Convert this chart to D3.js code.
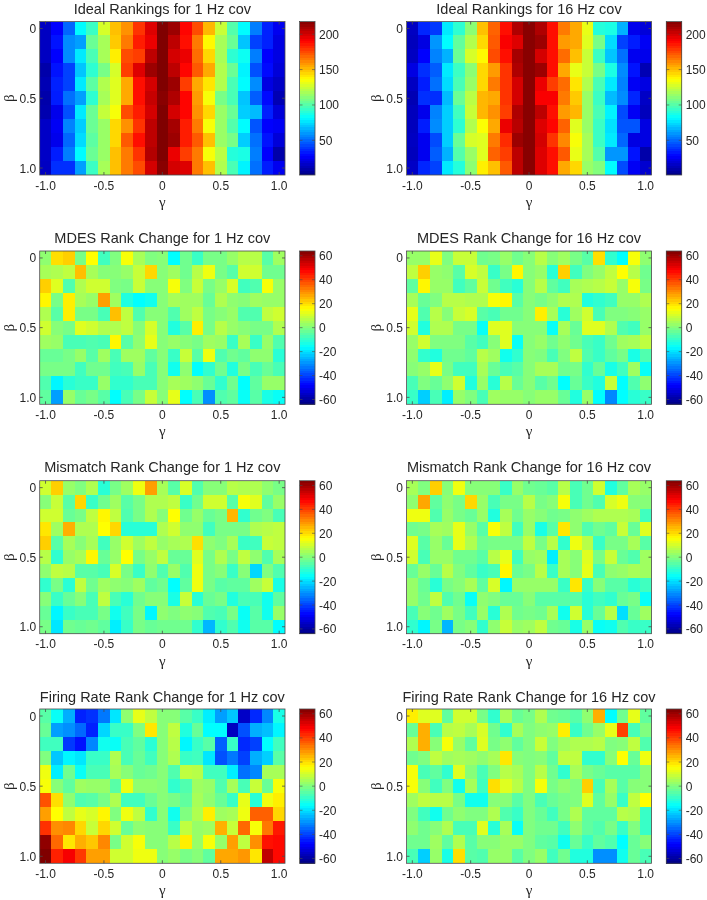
<!DOCTYPE html>
<html><head><meta charset="utf-8">
<script src="https://cdn.jsdelivr.net/npm/d3@7"></script>
<style>html,body{margin:0;padding:0;background:#fff}svg{display:block;filter:blur(0.35px)}text{font-family:"Liberation Sans",Arial,sans-serif;fill:#262626}.heat{filter:blur(0.7px)}.heat rect{shape-rendering:crispEdges}</style>
</head><body><svg id="c" width="707" height="900"></svg>
<script>
const gammaValues=[-1,-.9,-.8,-.7,-.6,-.5,-.4,-.3,-.2,-.1,0,.1,.2,.3,.4,.5,.6,.7,.8,.9,1];
const betaValues=[0,.1,.2,.3,.4,.5,.6,.7,.8,.9,1];
const gammaTicks=[-1,-.5,0,.5,1];
const betaTicks=[0,.5,1];
const idealTicks=[50,100,150,200];
const changeTicks=[-60,-40,-20,0,20,40,60];
const idealDomain=[1,218];
const changeDomain=[-64,64];
const titles=["Ideal Rankings for 1 Hz cov","Ideal Rankings for 16 Hz cov","MDES Rank Change for 1 Hz cov","MDES Rank Change for 16 Hz cov","Mismatch Rank Change for 1 Hz cov","Mismatch Rank Change for 16 Hz cov","Firing Rate Rank Change for 1 Hz cov","Firing Rate Rank Change for 16 Hz cov"];
const ideal1=[
[15,28,50,82,95,128,150,160,180,198,220,212,190,175,152,125,100,82,55,35,25],
[15,32,58,62,105,118,148,165,185,195,218,205,188,165,138,118,105,70,42,35,22],
[15,28,58,78,98,118,140,175,178,205,218,200,195,168,145,118,92,85,55,28,22],
[10,32,42,70,92,108,128,178,198,212,218,205,190,172,155,120,105,80,45,30,20],
[12,35,42,78,102,120,130,155,188,200,218,212,178,155,142,120,98,82,58,22,16],
[10,34,52,62,92,118,130,155,188,203,216,208,190,158,135,108,98,70,48,30,12],
[11,24,45,78,105,124,135,175,185,200,218,200,190,160,145,115,105,72,68,35,20],
[16,26,56,72,105,115,145,160,180,205,218,210,185,165,135,115,100,82,46,28,26],
[16,24,50,75,102,115,145,172,188,205,218,212,185,172,150,115,108,72,52,32,20],
[16,34,55,82,105,115,150,165,180,207,218,195,178,165,135,122,90,88,55,28,10],
[15,38,38,62,95,118,150,165,175,200,216,200,198,165,150,120,98,80,52,34,25]];
const ideal16=[
[15,36,40,78,92,112,150,170,188,208,216,208,188,165,155,132,90,88,66,24,20],
[14,22,60,82,103,120,145,172,192,198,216,212,188,158,155,130,108,75,42,34,26],
[15,28,56,66,105,128,138,175,188,210,216,200,188,168,150,125,95,70,52,25,24],
[22,38,48,78,95,112,145,158,180,208,216,212,188,155,132,125,108,88,58,32,12],
[15,34,52,75,98,115,145,165,180,200,216,195,178,168,142,120,98,78,56,26,22],
[12,38,38,68,105,122,152,155,180,200,216,192,192,165,148,115,95,68,58,36,16],
[14,24,56,72,96,125,152,160,178,208,216,205,188,158,152,115,98,80,44,26,14],
[14,34,58,72,92,120,136,155,195,206,216,198,190,170,130,115,95,76,46,46,22],
[15,25,44,72,105,128,130,165,182,212,216,200,180,162,135,118,95,78,50,22,22],
[14,25,48,66,100,115,130,170,178,205,216,198,188,172,132,118,100,60,60,32,10],
[16,36,42,78,90,112,140,150,172,205,216,198,188,155,145,115,110,82,44,26,18]];
const mdes1=[
[2,20,22,-1,16,-8,0,15,5,0,1,-16,-2,-9,-1,-1,3,7,7,-5,4],
[5,6,8,24,5,1,1,3,9,21,1,4,-2,7,14,-1,-5,10,10,-2,-2],
[22,12,-6,6,10,10,0,-1,9,1,1,15,0,9,-1,3,11,-8,-6,15,3],
[17,-1,18,5,3,28,4,-12,-16,-14,1,5,4,4,-3,6,2,1,4,3,3],
[6,-5,18,-1,-1,-7,24,8,-6,1,1,-6,4,8,-1,1,3,-6,-6,8,10],
[10,1,-1,12,10,6,6,8,1,11,1,-12,-5,18,-1,7,3,1,-1,-1,6],
[4,3,-7,-7,-6,-7,17,-5,2,13,1,3,1,-1,4,3,-9,5,-9,3,-6],
[-3,-3,-1,3,-5,4,-7,4,4,-4,1,-9,9,-5,14,-6,-2,-4,2,2,-11],
[-1,-1,-1,-8,-2,-2,-8,-7,3,-7,1,-14,2,-16,-10,-2,-12,-1,-7,-3,-7],
[-6,-17,-11,-9,-9,3,-10,-10,-7,-7,1,5,4,2,-3,-10,-2,-16,-4,3,3],
[-4,-28,3,-3,-1,-5,-16,-7,-1,9,1,13,-16,-7,-30,-6,-4,-15,-5,-13,-15]];
const mdes16=[
[3,3,13,0,9,9,-2,-1,3,-2,1,7,1,4,-1,-5,20,-10,-16,15,2],
[8,22,3,2,-5,11,8,-9,-1,17,1,3,-11,22,-8,0,3,8,16,7,-2],
[-4,17,3,3,-8,-4,9,-2,-8,-11,1,7,-4,-8,5,6,7,9,3,15,-1],
[5,-3,0,7,7,6,6,15,17,-5,1,-1,2,6,6,-12,-10,-8,3,3,6],
[13,-6,7,1,9,11,-5,-7,-2,-2,1,18,5,-11,4,10,-7,0,0,1,3],
[10,-12,6,6,-1,-1,-15,12,12,1,1,1,-15,5,-3,12,12,6,-6,-8,3],
[3,10,0,0,0,-5,-8,1,12,-15,1,3,-2,2,-2,-7,-9,-2,4,5,8],
[2,-10,-12,-2,-2,-4,7,4,-14,-10,1,0,-7,0,8,-6,-9,-4,-1,-13,-6],
[1,3,13,-1,-8,-8,5,-3,-7,-5,1,5,5,-2,-1,-10,-3,-13,-8,4,-15],
[-7,0,-3,2,10,-12,3,-11,7,-3,1,-5,-2,-16,-3,-9,-12,9,-16,-6,2],
[-9,-22,-7,-18,3,0,-7,4,3,3,1,3,3,-3,-12,3,-16,-31,-16,-11,-9]];
const mismatch1=[
[10,22,3,0,6,-11,-1,4,14,28,5,-5,11,-6,1,1,7,6,6,2,-1],
[1,9,-5,21,-9,-2,4,-5,-1,6,6,8,-9,-2,10,10,-5,15,12,-4,3],
[10,10,-3,-1,8,17,8,-6,-1,6,1,16,-2,3,-3,-1,25,-10,-2,0,-7],
[19,4,26,6,6,16,21,-11,-11,-11,6,10,2,2,-8,-1,-1,-1,6,7,8],
[22,-5,5,1,5,-8,3,10,4,8,3,5,6,20,2,0,5,-9,-8,9,8],
[7,-10,3,5,17,-3,3,16,-1,3,8,-3,-3,12,-1,6,-1,8,2,-6,5],
[2,8,7,-5,-5,-7,11,-1,-9,2,-6,3,-6,14,-1,1,-9,1,-21,0,-6],
[-10,-1,-11,8,-2,4,2,1,4,-4,-2,-16,-4,14,-1,-5,-4,-4,4,9,-13],
[1,-9,-3,1,-7,8,-7,-11,-2,1,1,-13,9,-11,-3,-1,-12,-7,-7,-14,-4],
[-3,-17,-9,-7,-7,-1,-14,-8,-1,-17,2,0,2,1,-6,-7,-1,-15,-5,-14,3],
[-1,-19,-2,-3,-2,-4,-18,-9,-1,-3,-2,-2,-2,-10,-25,-10,-6,-14,-5,-5,-16]];
const mismatch16=[
[5,0,22,1,14,1,1,1,-9,3,-2,-3,-5,7,-7,-2,10,-12,-4,5,3],
[2,27,-4,2,-1,21,3,-7,-1,-1,7,-1,1,15,-7,-2,-6,11,14,1,1],
[14,14,-6,3,-1,-3,3,-12,5,-2,3,1,-2,-1,2,4,6,6,6,5,-8],
[-2,-1,5,4,13,3,-5,15,8,-8,3,-13,-5,19,2,-6,-2,-4,9,-3,12],
[12,-5,3,-3,13,6,-2,-1,-1,-1,8,-1,7,-10,14,7,-9,-1,-1,5,-5],
[10,-7,3,3,-2,-2,-5,7,13,-8,3,4,-18,5,1,12,-1,9,-3,-6,4],
[-3,3,-3,7,0,-4,-9,-7,17,-3,-1,7,-9,5,1,13,-7,2,3,5,4],
[3,-3,-11,-1,1,5,-4,11,-17,3,3,3,3,-9,19,-9,1,-5,-5,-11,-8],
[3,-2,8,-6,-2,-15,2,0,-3,-3,1,-5,-5,-5,-5,-11,-8,-10,-3,-1,-15],
[-7,1,-2,4,-1,-8,3,-11,6,-2,-1,-2,5,-14,10,-11,-3,7,-20,-3,4],
[-10,-17,-1,-25,-1,1,-10,2,9,3,4,8,-2,-3,-13,3,-15,-14,-6,-9,-9]];
const firing1=[
[-5,-15,-26,-44,-42,-33,-19,2,13,8,1,1,-5,-9,-18,-28,-23,-55,-43,-31,-13],
[-3,-28,-30,-35,-44,-21,-9,-9,0,19,1,8,-12,-3,-16,-16,-56,-38,-26,-24,-17],
[-8,-8,-41,-46,-31,-14,-15,-7,-4,-11,1,7,-17,-9,-5,-36,-9,-43,-40,-16,-8],
[0,-23,-17,-19,-9,-9,6,-7,-3,-8,1,6,-9,-8,-19,-38,-33,-40,-26,-22,-5],
[14,-18,-2,-15,-7,-7,5,1,-3,-2,1,-6,8,7,-8,-8,-18,-34,-31,5,5],
[15,1,-4,4,3,3,-5,14,2,2,1,-10,-6,4,3,-6,5,-7,9,-3,15],
[38,20,2,-6,-5,-1,6,-8,-8,-3,1,-1,-4,5,2,-3,-9,13,-11,14,18],
[28,16,8,13,11,17,0,14,8,-10,1,-14,0,6,18,4,5,14,36,36,21],
[42,30,31,21,9,21,10,-3,2,1,1,-9,8,3,4,26,9,35,15,33,45],
[62,35,19,26,23,31,-1,10,15,1,1,7,18,3,15,3,28,8,30,46,47],
[65,44,49,41,28,28,10,10,14,14,1,3,-1,1,-4,27,27,29,19,56,47]];
const firing16=[
[18,12,12,-4,10,10,-1,-10,5,-3,-1,6,-2,-3,-5,2,26,-16,-2,13,-4],
[-3,26,-7,7,8,5,11,-2,-10,5,0,2,3,18,-9,-2,3,13,40,-7,0],
[6,26,1,15,3,-4,12,-1,2,-4,0,9,0,4,6,6,7,0,1,8,-6],
[-2,0,8,4,5,4,2,5,19,1,0,1,-4,8,8,-10,-10,1,16,-3,14],
[15,-7,-4,-10,12,1,-7,0,7,5,0,7,-2,-10,5,-1,-3,-5,-5,-5,1],
[15,1,-8,0,-14,5,-8,20,12,7,0,15,-1,2,0,22,-7,5,-5,1,1],
[4,8,7,7,-1,-14,-14,1,1,-5,0,-7,-3,-1,0,12,-4,3,-9,8,16],
[0,-8,-14,-2,2,0,0,6,-6,-9,0,-3,-8,-1,6,-4,-4,-4,7,6,-9],
[2,-2,1,6,-7,-7,12,-11,5,-15,0,-2,-2,-8,2,-4,-6,-1,-9,0,-9],
[-2,-2,4,-4,6,-5,1,1,3,3,0,-4,-5,-14,-3,-9,-4,-6,-16,-3,1],
[-7,-22,3,-13,20,-5,-6,3,3,-5,0,3,-8,-2,-12,-12,-30,-30,-14,-3,-7]];

const jetStops=[0,.125,.375,.625,.875,1];
const jetColors=["#000080","#0000ff","#00ffff","#ffff00","#ff0000","#800000"];
const jet=d3.scaleLinear().domain(jetStops).range(jetColors).interpolate(d3.interpolateRgb).clamp(true);

const columns=[{l:39.7,r:285,cl:299.5,cr:315},{l:406.5,r:651.5,cl:666.3,cr:681.7}];
const rows=[{t:21.5,b:175,tb:14},{t:251,b:404.3,tb:243},{t:480.7,b:633.7,tb:472},{t:709,b:863.3,tb:701.5}];
const panels=[
 {d:ideal1,c:0,r:0,dom:idealDomain,tk:idealTicks},{d:ideal16,c:1,r:0,dom:idealDomain,tk:idealTicks},
 {d:mdes1,c:0,r:1,dom:changeDomain,tk:changeTicks},{d:mdes16,c:1,r:1,dom:changeDomain,tk:changeTicks},
 {d:mismatch1,c:0,r:2,dom:changeDomain,tk:changeTicks},{d:mismatch16,c:1,r:2,dom:changeDomain,tk:changeTicks},
 {d:firing1,c:0,r:3,dom:changeDomain,tk:changeTicks},{d:firing16,c:1,r:3,dom:changeDomain,tk:changeTicks}];
const svg=d3.select("#c");
const frame="#4a4a4a",tickLen=3,fs=12;
panels.forEach((p,i)=>{
 const C=columns[p.c],R=rows[p.r];
 const x=d3.scaleLinear().domain([-1.05,1.05]).range([C.l,C.r]);
 const y=d3.scaleLinear().domain([-.05,1.05]).range([R.t,R.b]);
 const tone=v=>jet((v-p.dom[0])/(p.dom[1]-p.dom[0]));
 const g=svg.append("g");
 const clipId="clip"+i;
 svg.append("clipPath").attr("id",clipId).append("rect").attr("x",C.l).attr("y",R.t).attr("width",C.r-C.l).attr("height",R.b-R.t);
 const cells=[];p.d.forEach((row,ri)=>row.forEach((v,ci)=>cells.push({g:gammaValues[ci],b:betaValues[ri],v})));
 g.append("g").attr("clip-path",`url(#${clipId})`).append("g").attr("class","heat")
  .selectAll("rect").data(cells).join("rect")
  .attr("x",d=>x(d.g-.05)).attr("y",d=>y(d.b-.05))
  .attr("width",d=>x(d.g+.05)-x(d.g-.05)).attr("height",d=>y(d.b+.05)-y(d.b-.05))
  .attr("fill",d=>tone(d.v));
 g.append("rect").attr("x",C.l).attr("y",R.t).attr("width",C.r-C.l).attr("height",R.b-R.t).attr("fill","none").attr("stroke",frame).attr("stroke-width",.8);
 g.selectAll("path.tx").data(gammaTicks).join("path").attr("class","tx")
  .attr("d",d=>`M${x(d)},${R.b}v${-tickLen}M${x(d)},${R.t}v${tickLen}`).attr("stroke",frame).attr("stroke-width",.8);
 g.selectAll("path.ty").data(betaTicks).join("path").attr("class","ty")
  .attr("d",d=>`M${C.l},${y(d)}h${tickLen}M${C.r},${y(d)}h${-tickLen}`).attr("stroke",frame).attr("stroke-width",.8);
 g.selectAll("text.tx").data(gammaTicks).join("text").attr("class","tx")
  .attr("x",d=>x(d)).attr("y",R.b+14.5).attr("text-anchor","middle").attr("font-size",fs)
  .text(d=>d3.format(d===0?"d":".1f")(d).replace("−","-"));
 g.selectAll("text.ty").data(betaTicks).join("text").attr("class","ty")
  .attr("x",C.l-3.5).attr("y",d=>y(d)+4.5).attr("text-anchor","end").attr("font-size",fs)
  .text(d=>d===0?"0":d3.format(".1f")(d));
 g.append("text").attr("x",(C.l+C.r)/2).attr("y",R.tb).attr("text-anchor","middle").attr("font-size",14.5).text(titles[i]);
 g.append("text").attr("x",(C.l+C.r)/2).attr("y",R.b+32).attr("text-anchor","middle").attr("font-size",15).style("font-family","'Liberation Serif',serif").text("γ");
 g.append("text").attr("transform",`translate(${C.l-26},${(R.t+R.b)/2}) rotate(-90)`).attr("text-anchor","middle").attr("font-size",15).style("font-family","'Liberation Serif',serif").text("β");
 const steps=d3.range(64);
 const band=d3.scaleBand().domain(steps).range([R.b,R.t]);
 const cy=d3.scaleLinear().domain(p.dom).range([R.b,R.t]);
 g.append("g").attr("class","heat").selectAll("rect").data(steps).join("rect")
  .attr("x",C.cl).attr("width",C.cr-C.cl).attr("y",d=>band(d)).attr("height",band.bandwidth()+.3)
  .attr("fill",d=>jet((d+.5)/64));
 g.append("rect").attr("x",C.cl).attr("y",R.t).attr("width",C.cr-C.cl).attr("height",R.b-R.t).attr("fill","none").attr("stroke",frame).attr("stroke-width",.8);
 g.selectAll("path.tc").data(p.tk).join("path").attr("class","tc")
  .attr("d",d=>`M${C.cr},${cy(d)}h${-tickLen}M${C.cl},${cy(d)}h${tickLen}`).attr("stroke",frame).attr("stroke-width",.6);
 g.selectAll("text.tc").data(p.tk).join("text").attr("class","tc")
  .attr("x",C.cr+4).attr("y",d=>cy(d)+4.5).attr("font-size",fs).text(d=>d);
});
</script></body></html>
